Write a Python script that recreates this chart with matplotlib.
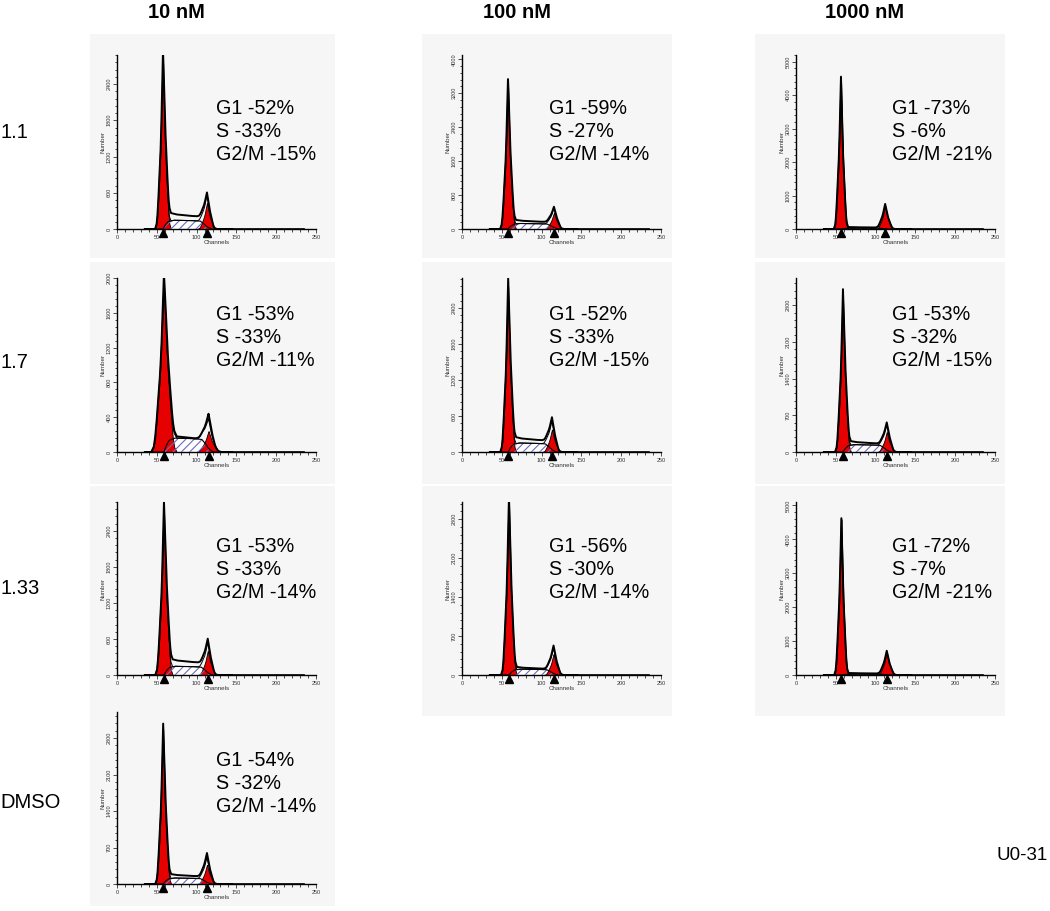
import numpy as np
import matplotlib.pyplot as plt
from matplotlib.patches import Rectangle
from matplotlib.ticker import MultipleLocator

plt.rcParams['font.family'] = ['Liberation Sans', 'DejaVu Sans']
plt.rcParams['hatch.linewidth'] = 0.8

W, H = 1050, 911

col_titles = ['10 nM', '100 nM', '1000 nM']
row_titles = ['1.1', '1.7', '1.33', 'DMSO']

# one entry per histogram panel
panel_row = [0, 0, 0, 1, 1, 1, 2, 2, 2, 3]
panel_col = [0, 1, 2, 0, 1, 2, 0, 1, 2, 0]
g1_pct = [52, 59, 73, 53, 52, 53, 53, 56, 72, 54]
s_pct = [33, 27, 6, 33, 33, 32, 33, 30, 7, 32]
g2_pct = [15, 14, 21, 11, 15, 15, 14, 14, 21, 14]

y_max = [2880, 4100, 5200, 2000, 2900, 3320, 2880, 3110, 5100, 3300]
y_step = [600, 800, 1000, 400, 600, 700, 600, 700, 1000, 700]
g1_chan = [57.8, 57.8, 56.5, 59, 58, 59, 59, 59, 57, 58]
g2_chan = [113, 115.5, 112, 115, 113, 114, 114, 115, 114, 113]
g1_height = [2820, 3445, 4520, 1950, 2755, 2990, 2735, 3130, 4590, 2970]
g2_top = [605, 525, 750, 440, 580, 565, 605, 530, 715, 595]
g2_red = [430, 380, 675, 240, 375, 380, 400, 375, 665, 365]
s_fit_h = [145, 130, 25, 160, 150, 140, 145, 105, 25, 115]
s_top = [230, 185, 50, 170, 215, 180, 230, 125, 50, 165]
g1_wid = [1.0, 1.0, 0.9, 1.6, 1.0, 1.0, 1.1, 1.0, 0.9, 1.0]
g2_wid = [1.25, 1.25, 1.2, 1.6, 1.25, 1.25, 1.25, 1.25, 1.2, 1.25]

# peak and S-phase shapes (offset in channels, relative height)
peak_off = [-10, -8, -7, -6, -5, -4, -3, -2, -1, 0, 1, 2, 3, 4, 5, 6, 7, 8, 10]
peak_rel = [0, .03, .08, .16, .26, .36, .47, .62, .82, 1,
            .82, .62, .47, .36, .26, .16, .08, .03, 0]
s_pos = [0.0, 0.05, 0.12, 0.25, 0.6, 0.85, 0.93, 1.0, 1.1]
s_rel = [0, 0.45, 0.85, 1.0, 0.97, 0.9, 0.6, 0.25, 0]
sout_pos = [-0.05, 0.05, 0.12, 0.3, 0.6, 0.85, 1.0, 1.15]
sout_rel = [0, 1.3, 1.2, 1.05, 0.95, 0.9, 0.85, 0]

# layout (pixels)
col_x = [(117, 316), (462, 661), (796, 995)]
row_y = [(55, 229), (278, 452), (502, 675), (712, 884)]
box_x = [(90, 335), (422, 672), (755, 1005)]
box_y = [(34, 258), (262, 484), (486, 716), (708, 906)]
text_x = [216, 549, 892]
text_y = [114, 320, 552, 766]
title_x = [176, 517, 865]
label_y = [133, 362, 588, 802]


def fx(x):
    return x / W


def fy(y):
    return 1 - y / H


fig = plt.figure(figsize=(W / 100, H / 100), dpi=100)

for i in range(len(panel_row)):
    r, c = panel_row[i], panel_col[i]
    bx0, bx1 = box_x[c]
    by0, by1 = box_y[r]
    fig.patches.append(Rectangle((fx(bx0), fy(by1)), (bx1 - bx0) / W, (by1 - by0) / H,
                                 transform=fig.transFigure, facecolor='#f6f6f6',
                                 edgecolor='none', zorder=-5))
    x0, x1 = col_x[c]
    y0, y1 = row_y[r]
    ax = fig.add_axes([fx(x0), fy(y1), (x1 - x0) / W, (y1 - y0) / H], zorder=2)
    ax.patch.set_alpha(0)

    ch = np.arange(35, 145, 0.25)
    g1 = np.interp((ch - g1_chan[i]) / g1_wid[i], peak_off, peak_rel)
    g2 = np.interp((ch - g2_chan[i]) / g2_wid[i], peak_off, peak_rel)
    t = (ch - g1_chan[i]) / (g2_chan[i] - g1_chan[i])
    s_fit = np.interp(t, s_pos, s_rel, left=0, right=0) * s_fit_h[i]
    s_dat = np.interp(t, sout_pos, sout_rel, left=0, right=0) * s_top[i]
    under_g2 = s_top[i] * 0.85
    data = g1_height[i] * g1 + (g2_top[i] - under_g2) * g2 + s_dat
    fit = g1_height[i] * g1 + (g2_red[i] + 0.5 * (g2_top[i] - g2_red[i])) * g2 + s_fit

    ax.fill_between(ch, 0, s_fit, facecolor='white', lw=0, zorder=1)
    ax.fill_between(ch, 0, g1_height[i] * g1, facecolor='#e60000', edgecolor='k', lw=0.6, zorder=2)
    ax.fill_between(ch, 0, g2_red[i] * g2, facecolor='#e60000', edgecolor='k', lw=0.6, zorder=2)
    ax.fill_between(ch, 0, s_fit, facecolor='none', hatch='////', edgecolor='#6b6bc0', lw=0, zorder=3)
    ax.plot(ch, s_fit, color='k', lw=0.8, zorder=3.5)
    ax.plot(ch, fit, color='k', lw=0.7, zorder=3.6)
    ax.plot(ch, data, color='k', lw=1.4, zorder=4)
    ax.plot([140, 235], [0, 0], color='k', lw=1.2, zorder=4)
    ax.plot([g1_chan[i], g2_chan[i]], [-0.024 * y_max[i]] * 2, marker='^', ms=6,
            color='k', ls='none', clip_on=False, zorder=5)

    ax.set_xlim(0, 250)
    ax.set_ylim(0, y_max[i])
    ax.xaxis.set_major_locator(MultipleLocator(50))
    ax.xaxis.set_minor_locator(MultipleLocator(10))
    ax.yaxis.set_major_locator(MultipleLocator(y_step[i]))
    ax.yaxis.set_minor_locator(MultipleLocator(y_step[i] / 5))
    for lab in ax.get_yticklabels():
        lab.set_rotation(90)
        lab.set_va('center')
    ax.tick_params(which='major', length=3, width=0.6, pad=1, labelsize=4, colors='#333333')
    ax.tick_params(which='minor', length=1.8, width=0.5)
    ax.set_xlabel('Channels', fontsize=4.5, labelpad=0, color='#333333')
    ax.set_ylabel('Number', fontsize=4.5, labelpad=1, color='#333333')
    for side in ['top', 'right']:
        ax.spines[side].set_visible(False)
    ax.spines['left'].set_linewidth(1.0)
    ax.spines['bottom'].set_linewidth(1.0)

    lines = [f'G1 -{g1_pct[i]}%', f'S -{s_pct[i]}%', f'G2/M -{g2_pct[i]}%']
    for k, txt in enumerate(lines):
        fig.text(fx(text_x[c]), fy(text_y[r] + 23 * k), txt, fontsize=14.2, va='baseline')

for c, title in enumerate(col_titles):
    fig.text(fx(title_x[c]), fy(12), title, ha='center', va='center',
             fontsize=14.5, fontweight='bold')

for r, lab in enumerate(row_titles):
    fig.text(0.0, fy(label_y[r]), lab, ha='left', va='center', fontsize=14.5)

fig.text(fx(1048), fy(855), 'U0-31', ha='right', va='center', fontsize=13.5)

fig.savefig('out.png', dpi=100)
